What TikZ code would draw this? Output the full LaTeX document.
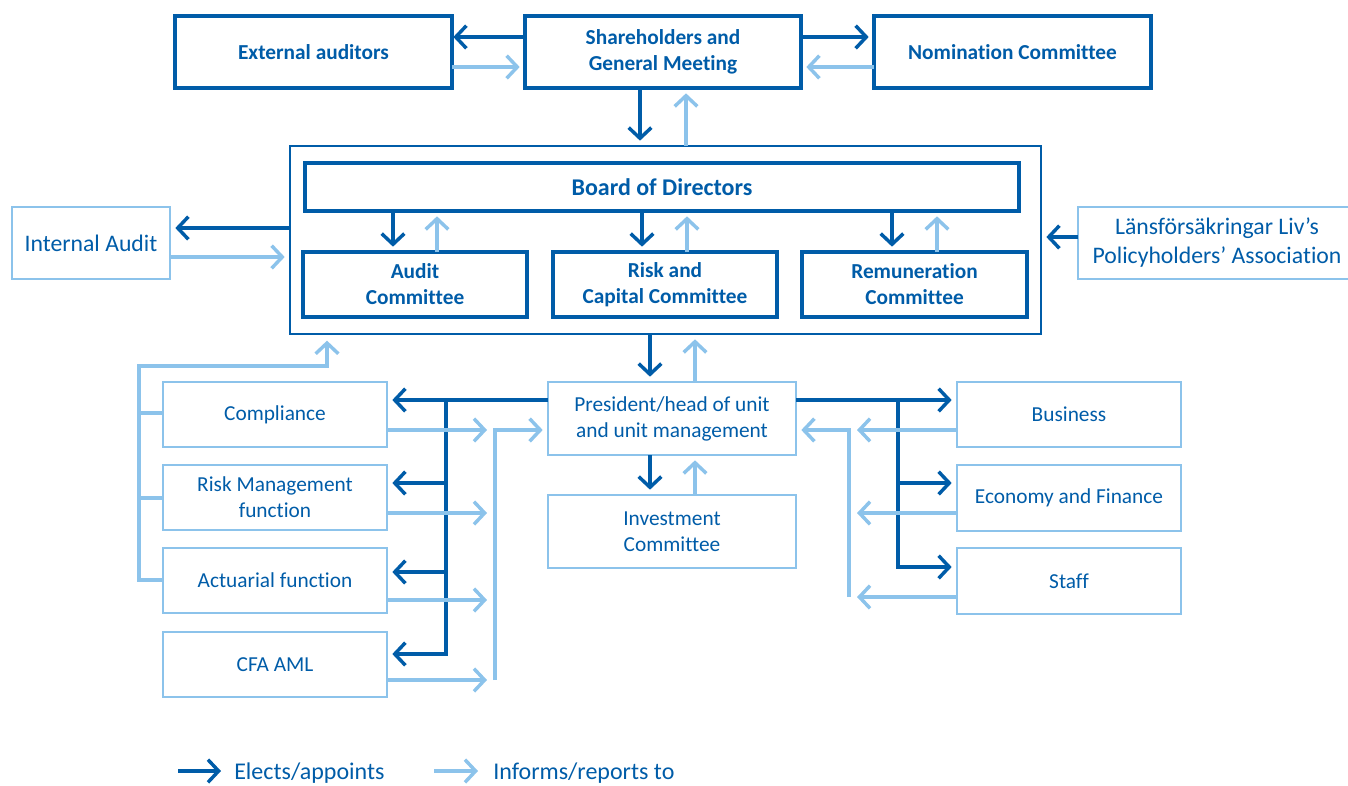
\documentclass[tikz,border=0pt]{standalone}
\usepackage{fontspec}
\setmainfont[Ligatures=NoCommon]{Carlito}
\usetikzlibrary{arrows.meta}
\definecolor{dblue}{RGB}{0,92,168}
\definecolor{lblue}{RGB}{140,195,235}
\newcommand\mybox[7]{%
  \pgfmathsetmacro\mbw{(#5-#3)*0.75}%
  \pgfmathsetmacro\mbh{(#6-#4)*0.75}%
  \node[#2, minimum width=\mbw pt, minimum height=\mbh pt] (#1) at ({(#3+#5)/2},{(#4+#6)/2}) {#7};}
\begin{document}
\begin{tikzpicture}[x=0.75pt,y=-0.75pt,
  dbox/.style={draw=dblue, line width=2.6pt, inner sep=0pt, outer sep=0pt, align=center, text=dblue, font=\fontsize{16}{19.5}\selectfont\bfseries},
  lbox/.style={draw=lblue, line width=2pt, inner sep=0pt, outer sep=0pt, align=center, text=dblue, font=\fontsize{16}{19.5}\selectfont},
  frame/.style={draw=dblue, line width=1.6pt, inner sep=0pt, outer sep=0pt},
  darr/.style={draw=dblue, line width=2.6pt, -{Straight Barb[length=8pt,width=17pt]}},
  larr/.style={draw=lblue, line width=2.6pt, -{Straight Barb[length=8pt,width=17pt]}},
  lline/.style={draw=lblue, line width=2.6pt},
  legtext/.style={inner sep=0pt, anchor=base west, text=dblue, font=\fontsize{18}{20}\selectfont},
]
\useasboundingbox (0,0) rectangle (1348,785);
% top row
\mybox{ext}{dbox}{175}{16}{452}{88}{External auditors}
\mybox{share}{dbox}{525}{16}{801}{88}{Shareholders and\\General Meeting}
\mybox{nom}{dbox}{874}{16}{1151}{88}{Nomination Committee}
% board block
\mybox{outer}{frame}{290}{146}{1041}{334}{}
\mybox{board}{dbox, font=\fontsize{18}{21}\selectfont\bfseries}{305}{163}{1019}{211}{Board of Directors}
\mybox{audc}{dbox}{303}{252}{527}{317}{Audit\\Committee}
\mybox{riskc}{dbox}{553}{252}{777}{317}{Risk and\\Capital Committee}
\mybox{remc}{dbox}{802}{252}{1027}{317}{Remuneration\\Committee}
\mybox{ia}{lbox, font=\fontsize{17.8}{21.75}\selectfont}{12}{207}{170}{279}{Internal Audit}
\mybox{lans}{lbox, font=\fontsize{17.8}{21.75}\selectfont}{1078}{207}{1356}{279}{Länsförsäkringar Liv’s\\Policyholders’ Association}
% management
\mybox{pres}{lbox}{548}{382}{796}{455}{President/head of unit\\and unit management}
\mybox{inv}{lbox}{548}{495}{796}{568}{Investment\\Committee}
\mybox{comp}{lbox}{163}{382}{387}{447}{Compliance}
\mybox{riskm}{lbox}{163}{465}{387}{530}{Risk Management\\function}
\mybox{act}{lbox}{163}{548}{387}{613}{Actuarial function}
\mybox{cfa}{lbox}{163}{632}{387}{697}{CFA AML}
\mybox{bus}{lbox}{957}{382}{1181}{447}{Business}
\mybox{eco}{lbox}{957}{465}{1181}{531}{Economy and Finance}
\mybox{staff}{lbox}{957}{548}{1181}{614}{Staff}
% top connectors
\draw[darr, shorten >=1pt] (share.west|-0,37) -- (ext.east|-0,37);
\draw[larr, shorten >=4pt] (ext.east|-0,67) -- (share.west|-0,67);
\draw[darr, shorten >=4pt] (share.east|-0,37) -- (nom.west|-0,37);
\draw[larr, shorten >=4pt] (nom.west|-0,67) -- (share.east|-0,67);
\draw[darr, shorten >=4pt] (share.south-|640,0) -- (outer.north-|640,0);
\draw[larr, shorten >=4pt] (outer.north-|686,0) -- (share.south-|686,0);
% board to committees
\draw[darr, shorten >=4pt] (board.south-|393,0) -- (audc.north-|393,0);
\draw[larr, shorten >=4pt] (audc.north-|437,0) -- (board.south-|437,0);
\draw[darr, shorten >=4pt] (board.south-|642,0) -- (riskc.north-|642,0);
\draw[larr, shorten >=4pt] (riskc.north-|687,0) -- (board.south-|687,0);
\draw[darr, shorten >=4pt] (board.south-|892,0) -- (remc.north-|892,0);
\draw[larr, shorten >=4pt] (remc.north-|937,0) -- (board.south-|937,0);
% side boxes
\draw[darr, shorten >=4pt] (outer.west|-0,228) -- (ia.east|-0,228);
\draw[larr, shorten >=4pt] (ia.east|-0,257) -- (outer.west|-0,257);
\draw[darr, shorten >=4pt] (lans.west|-0,237) -- (outer.east|-0,237);
% board to president, president to investment
\draw[darr, shorten >=4pt] (outer.south-|650,0) -- (pres.north-|650,0);
\draw[larr, shorten >=4pt] (pres.north-|695,0) -- (outer.south-|695,0);
\draw[darr, shorten >=4pt] (pres.south-|650,0) -- (inv.north-|650,0);
\draw[larr, shorten >=4pt] (inv.north-|695,0) -- (pres.south-|695,0);
% left dark bus
\coordinate (ljt) at (446,400);
\coordinate (ljb) at (446,654);
\draw[darr, shorten >=4pt] (pres.west|-ljt) -- (comp.east|-ljt);
\draw[darr, shorten >=4pt] (ljt) -- (ljb) -- (cfa.east|-ljb);
\draw[darr, shorten >=4pt] (ljt|-0,483) -- (riskm.east|-0,483);
\draw[darr, shorten >=4pt] (ljt|-0,572) -- (act.east|-0,572);
% left light bus
\coordinate (lrt) at (495,430);
\coordinate (lrb) at (495,680);
\draw[larr, shorten >=6pt] (comp.east|-lrt) -- (lrt);
\draw[larr, shorten >=6pt] (riskm.east|-0,513) -- (lrt|-0,513);
\draw[larr, shorten >=6pt] (act.east|-0,600) -- (lrt|-0,600);
\draw[larr, shorten >=6pt] (cfa.east|-lrb) -- (lrb);
\draw[larr, shorten >=4pt] (lrb) -- (lrt) -- (pres.west|-lrt);
% left light bus to board
\coordinate (lo1) at (139,580);
\coordinate (lo2) at (139,366);
\coordinate (lo3) at (327,366);
\draw[larr, shorten >=5pt] (act.west|-lo1) -- (lo1) -- (lo2) -- (lo3) -- (outer.south-|lo3);
\draw[lline] (comp.west|-0,413) -- (lo1|-0,413);
\draw[lline] (riskm.west|-0,498) -- (lo1|-0,498);
% right dark bus
\coordinate (rjt) at (898,400);
\coordinate (rjb) at (898,567);
\draw[darr, shorten >=4pt] (pres.east|-rjt) -- (bus.west|-rjt);
\draw[darr, shorten >=4pt] (rjt) -- (rjb) -- (staff.west|-rjb);
\draw[darr, shorten >=4pt] (rjt|-0,483) -- (eco.west|-0,483);
% right light bus
\coordinate (rlt) at (849,430);
\coordinate (rlb) at (849,597);
\draw[larr, shorten >=6pt] (bus.west|-rlt) -- (rlt);
\draw[larr, shorten >=6pt] (eco.west|-0,513) -- (rlt|-0,513);
\draw[larr, shorten >=6pt] (staff.west|-rlb) -- (rlb);
\draw[larr, shorten >=4pt] (rlb) -- (rlt) -- (pres.east|-rlt);
% legend
\coordinate (la1) at (178,771);
\coordinate (la2) at (221,771);
\coordinate (lb1) at (434,771);
\coordinate (lb2) at (478,771);
\draw[darr] (la1) -- (la2);
\draw[larr] (lb1) -- (lb2);
\node[legtext] (lt1) at (234,779) {Elects/appoints};
\node[legtext] (lt2) at (493,779) {Informs/reports to};
\end{tikzpicture}
\end{document}
